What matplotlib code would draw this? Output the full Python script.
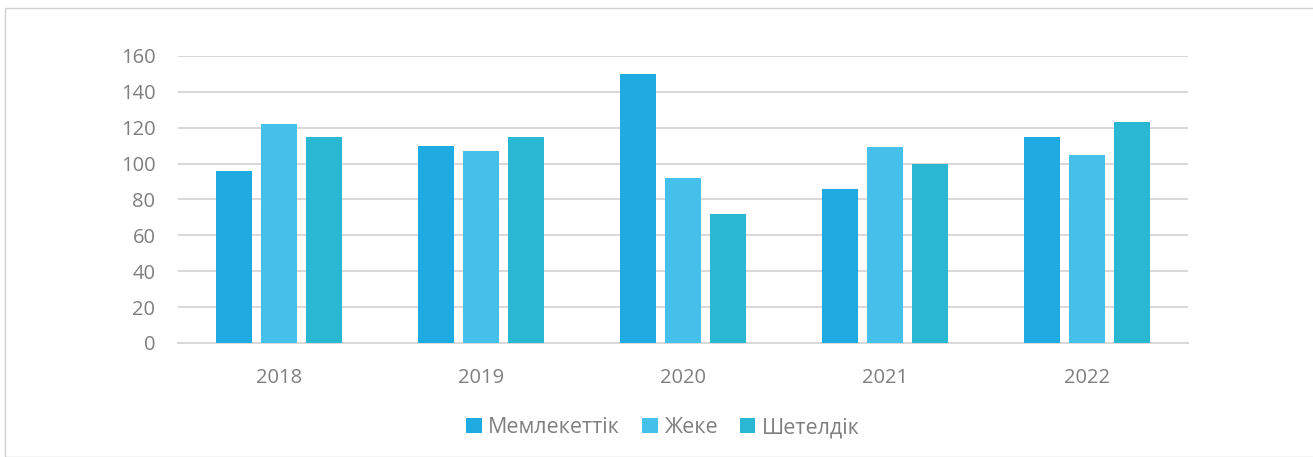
import numpy as np
import matplotlib.pyplot as plt
from matplotlib.patches import Rectangle

plt.rcParams['font.family'] = ['Open Sans', 'DejaVu Sans']

years = ['2018', '2019', '2020', '2021', '2022']
memlekettik = [96, 110, 150, 86, 115]
zheke = [122, 107, 92, 109, 105]
sheteldik = [115, 115, 72, 100, 123]

series = [('Мемлекеттік', memlekettik, '#1FABE2'),
          ('Жеке', zheke, '#44C0EB'),
          ('Шетелдік', sheteldik, '#29B7D2')]

fig = plt.figure(figsize=(13.13, 4.57), dpi=100)
ax = fig.add_axes([0.1353, 0.2495, 0.7695, 0.628])

# outer frame of the chart area
fig.patches.append(Rectangle((5 / 1313, 0), 1.2, 1 - 8 / 457, transform=fig.transFigure,
                             fill=False, edgecolor='#d0d0d0', linewidth=1))

x = np.arange(len(years))
width = 0.178
step = 0.223
for i, (name, vals, col) in enumerate(series):
    ax.bar(x + (i - 1) * step, vals, width, color=col, label=name, zorder=3)

ax.set_xlim(-0.5, 4.5)
ax.set_ylim(0, 160)
ax.set_yticks(range(0, 161, 20))
ax.set_xticks(x)
ax.set_xticklabels(years)
ax.grid(axis='y', color='#d9d9d9', linewidth=1.5, zorder=0)
for s in ['top', 'right', 'left']:
    ax.spines[s].set_visible(False)
ax.spines['bottom'].set_color('#d9d9d9')
ax.spines['bottom'].set_linewidth(1.5)
ax.tick_params(length=0, labelsize=14.5, colors='#7f7f7f')
ax.tick_params(axis='x', pad=18)
ax.tick_params(axis='y', pad=16)

fig.legend(loc='center', bbox_to_anchor=(0.505, 0.0635), ncol=3, frameon=False,
           fontsize=15.5, labelcolor='#7f7f7f', handlelength=0.7, handleheight=0.7,
           handletextpad=0.3, columnspacing=1.05)

fig.savefig('out.png', dpi=100, facecolor='white')
